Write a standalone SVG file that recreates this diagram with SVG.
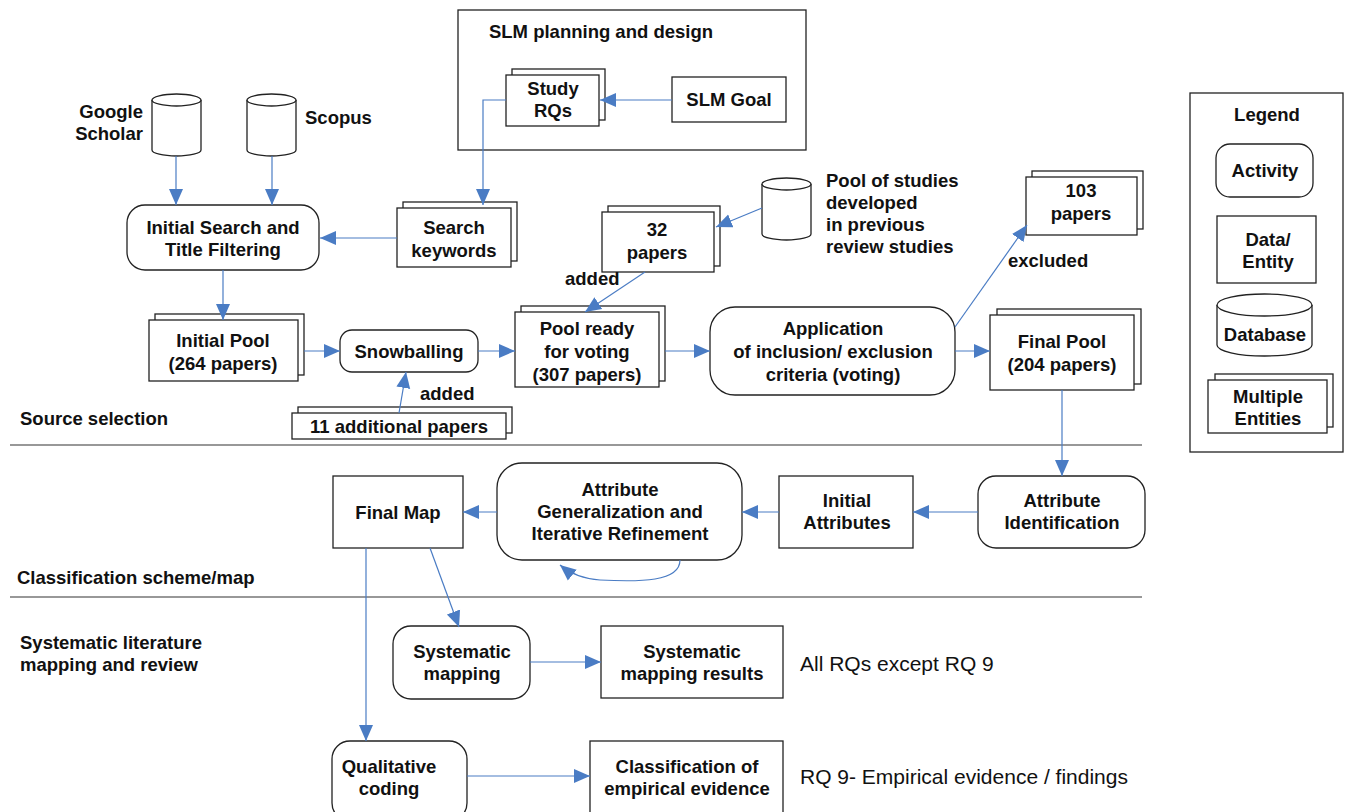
<svg xmlns="http://www.w3.org/2000/svg" width="1350" height="812" viewBox="0 0 1350 812">
<style>
.b{fill:#fff;stroke:#222;stroke-width:1.3}
.t{font-family:"Liberation Sans",Arial,sans-serif;font-size:18.5px;font-weight:bold;fill:#111;text-anchor:middle}
.l{font-family:"Liberation Sans",Arial,sans-serif;font-size:18.5px;font-weight:bold;fill:#111}
.n{font-family:"Liberation Sans",Arial,sans-serif;font-size:21px;fill:#111}
.c{fill:none;stroke:#4a7cc4;stroke-width:1.2}
.sep{stroke:#333;stroke-width:1.2}
</style>
<defs>
<marker id="a" markerUnits="userSpaceOnUse" markerWidth="18" markerHeight="16" refX="16" refY="8" orient="auto">
<path d="M0,1 L16,8 L0,15 Z" fill="#4a7cc4"/>
</marker>
</defs>
<rect width="1350" height="812" fill="#fff"/>

<g id="planning">
<rect x="458" y="10" width="348" height="140" class="b"/>
<text x="601" y="38" class="t">SLM planning and design</text>
</g>
<g id="studyrqs">
<rect x="512" y="69" width="93" height="51" class="b"/>
<rect x="506" y="75" width="93" height="51" class="b"/>
<text x="553" y="95" class="t">Study</text>
<text x="553" y="117" class="t">RQs</text>
</g>
<g id="slmgoal">
<rect x="672" y="77" width="114" height="45" class="b"/>
<text x="729" y="106" class="t">SLM Goal</text>
</g>
<g id="google">
<path d="M152,100 v50 a24.5,6 0 0 0 49,0 v-50" class="b"/>
<ellipse cx="176.5" cy="100" rx="24.5" ry="6" class="b"/>
<text x="143" y="118" class="l" text-anchor="end">Google</text>
<text x="143" y="140" class="l" text-anchor="end">Scholar</text>
</g>
<g id="scopus">
<path d="M247,100 v50 a24.5,6 0 0 0 49,0 v-50" class="b"/>
<ellipse cx="271.5" cy="100" rx="24.5" ry="6" class="b"/>
<text x="305" y="124" class="l">Scopus</text>
</g>
<g id="initialsearch">
<rect x="127" y="205" width="192" height="65" rx="18" class="b"/>
<text x="223" y="234" class="t">Initial Search and</text>
<text x="223" y="256" class="t">Title Filtering</text>
</g>
<g id="searchkw">
<rect x="403" y="202" width="114" height="59" class="b"/>
<rect x="397" y="208" width="114" height="59" class="b"/>
<text x="454" y="234" class="t">Search</text>
<text x="454" y="257" class="t">keywords</text>
</g>
<g id="initialpool">
<rect x="155" y="314" width="149" height="61" class="b"/>
<rect x="149" y="320" width="149" height="61" class="b"/>
<text x="223" y="347" class="t">Initial Pool</text>
<text x="223" y="370" class="t">(264 papers)</text>
</g>
<g id="snowballing">
<rect x="340" y="330" width="138" height="42" rx="12" class="b"/>
<text x="409" y="358" class="t">Snowballing</text>
</g>
<g id="additional">
<rect x="298" y="407" width="214" height="26" class="b"/>
<rect x="292" y="413" width="214" height="26" class="b"/>
<text x="399" y="433" class="t">11 additional papers</text>
</g>
<g id="poolready">
<rect x="521" y="306" width="144" height="75" class="b"/>
<rect x="515" y="312" width="144" height="75" class="b"/>
<text x="587" y="335" class="t">Pool ready</text>
<text x="587" y="358" class="t">for voting</text>
<text x="587" y="381" class="t">(307 papers)</text>
</g>
<g id="papers32">
<rect x="608" y="206" width="112" height="60" class="b"/>
<rect x="602" y="212" width="112" height="60" class="b"/>
<text x="657" y="236" class="t">32</text>
<text x="657" y="259" class="t">papers</text>
</g>
<g id="poolprev">
<path d="M762,184 v50 a24.5,6 0 0 0 49,0 v-50" class="b"/>
<ellipse cx="786.5" cy="184" rx="24.5" ry="6" class="b"/>
<text x="826" y="187" class="l">Pool of studies</text>
<text x="826" y="209" class="l">developed</text>
<text x="826" y="231" class="l">in previous</text>
<text x="826" y="253" class="l">review studies</text>
</g>
<g id="application">
<rect x="710" y="307" width="245" height="88" rx="25" class="b"/>
<text x="833" y="335" class="t">Application</text>
<text x="833" y="358" class="t">of inclusion/ exclusion</text>
<text x="833" y="381" class="t">criteria (voting)</text>
</g>
<g id="papers103">
<rect x="1032" y="171" width="111" height="58" class="b"/>
<rect x="1026" y="177" width="111" height="58" class="b"/>
<text x="1081" y="197" class="t">103</text>
<text x="1081" y="220" class="t">papers</text>
</g>
<g id="finalpool">
<rect x="997" y="309" width="144" height="75" class="b"/>
<rect x="990" y="315" width="144" height="75" class="b"/>
<text x="1062" y="348" class="t">Final Pool</text>
<text x="1062" y="371" class="t">(204 papers)</text>
</g>
<g id="attrid">
<rect x="978" y="476" width="167" height="72" rx="18" class="b"/>
<text x="1062" y="507" class="t">Attribute</text>
<text x="1062" y="529" class="t">Identification</text>
</g>
<g id="initattr">
<rect x="779" y="476" width="134" height="72" class="b"/>
<text x="847" y="507" class="t">Initial</text>
<text x="847" y="529" class="t">Attributes</text>
</g>
<g id="attrgen">
<rect x="497" y="463" width="245" height="97" rx="25" class="b"/>
<text x="620" y="496" class="t">Attribute</text>
<text x="620" y="518" class="t">Generalization and</text>
<text x="620" y="540" class="t">Iterative Refinement</text>
</g>
<g id="finalmap">
<rect x="333" y="476" width="130" height="72" class="b"/>
<text x="398" y="519" class="t">Final Map</text>
</g>
<g id="sysmap">
<rect x="393" y="626" width="137" height="73" rx="18" class="b"/>
<text x="462" y="658" class="t">Systematic</text>
<text x="462" y="680" class="t">mapping</text>
</g>
<g id="sysmapres">
<rect x="601" y="626" width="182" height="72" class="b"/>
<text x="692" y="658" class="t">Systematic</text>
<text x="692" y="680" class="t">mapping results</text>
</g>
<g id="qualcoding">
<rect x="332" y="741" width="135" height="80" rx="18" class="b"/>
<text x="389" y="773" class="t">Qualitative</text>
<text x="389" y="795" class="t">coding</text>
</g>
<g id="classev">
<rect x="590" y="741" width="193" height="80" class="b"/>
<text x="687" y="773" class="t">Classification of</text>
<text x="687" y="795" class="t">empirical evidence</text>
</g>
<g id="legend">
<rect x="1190" y="93" width="153" height="359" class="b"/>
<text x="1267" y="121" class="t">Legend</text>
<rect x="1216" y="144" width="97" height="53" rx="14" class="b"/>
<text x="1265" y="177" class="t">Activity</text>
<rect x="1217" y="216" width="99" height="67" class="b"/>
<text x="1268" y="246" class="t">Data/</text>
<text x="1268" y="268" class="t">Entity</text>
<path d="M1217,305 v40 a47.5,11 0 0 0 95,0 v-40" class="b"/>
<ellipse cx="1264.5" cy="305" rx="47.5" ry="11" class="b"/>
<text x="1265" y="341" class="t">Database</text>
<rect x="1215" y="374" width="118" height="53" class="b"/>
<rect x="1208" y="380" width="119" height="53" class="b"/>
<text x="1268" y="403" class="t">Multiple</text>
<text x="1268" y="425" class="t">Entities</text>
</g>
<g id="labels">
<text x="20" y="425" class="l">Source selection</text>
<text x="17" y="584" class="l">Classification scheme/map</text>
<text x="20" y="649" class="l">Systematic literature</text>
<text x="20" y="671" class="l">mapping and review</text>
<text x="800" y="671" class="n">All RQs except RQ 9</text>
<text x="800" y="784" class="n">RQ 9- Empirical evidence / findings</text>
<text x="420" y="400" class="l">added</text>
<text x="565" y="285" class="l">added</text>
<text x="1008" y="267" class="l">excluded</text>
<line x1="10" y1="445" x2="1142" y2="445" class="sep"/>
<line x1="10" y1="597" x2="1142" y2="597" class="sep"/>
</g>
<g id="connectors">
<path d="M672,100 L600,100" class="c" marker-end="url(#a)"/>
<path d="M506,100 L483,100 L483,205" class="c" marker-end="url(#a)"/>
<path d="M176,156 L176,205" class="c" marker-end="url(#a)"/>
<path d="M272,156 L272,205" class="c" marker-end="url(#a)"/>
<path d="M397,238 L320,238" class="c" marker-end="url(#a)"/>
<path d="M223,270 L223,320" class="c" marker-end="url(#a)"/>
<path d="M304,351 L340,351" class="c" marker-end="url(#a)"/>
<path d="M399,413 L406,372" class="c" marker-end="url(#a)"/>
<path d="M478,351 L515,351" class="c" marker-end="url(#a)"/>
<path d="M762,208 L716,227" class="c" marker-end="url(#a)"/>
<path d="M645,272 L585,312" class="c" marker-end="url(#a)"/>
<path d="M665,351 L710,351" class="c" marker-end="url(#a)"/>
<path d="M955,351 L990,351" class="c" marker-end="url(#a)"/>
<path d="M955,327 L1027,225" class="c" marker-end="url(#a)"/>
<path d="M1062,390 L1062,476" class="c" marker-end="url(#a)"/>
<path d="M978,512 L913,512" class="c" marker-end="url(#a)"/>
<path d="M779,512 L742,512" class="c" marker-end="url(#a)"/>
<path d="M680,560 C680,582 640,582 600,580 C585,579 572,575 560,565" class="c" marker-end="url(#a)"/>
<path d="M497,512 L463,512" class="c" marker-end="url(#a)"/>
<path d="M366,548 L366,741" class="c" marker-end="url(#a)"/>
<path d="M430,548 L459,627" class="c" marker-end="url(#a)"/>
<path d="M530,662 L601,662" class="c" marker-end="url(#a)"/>
<path d="M467,776 L590,776" class="c" marker-end="url(#a)"/>
</g>
</svg>
